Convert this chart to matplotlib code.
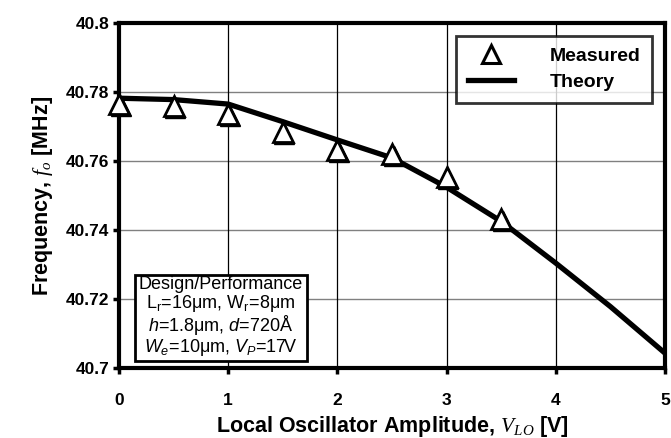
import matplotlib
matplotlib.use("Agg")
import matplotlib.pyplot as plt
import matplotlib.transforms as mtransforms
from matplotlib.lines import Line2D

plt.rcParams['font.family'] = ['Liberation Sans', 'DejaVu Sans']
plt.rcParams['mathtext.fontset'] = 'custom'
plt.rcParams['mathtext.rm'] = 'Liberation Sans'
plt.rcParams['mathtext.it'] = 'Liberation Sans:italic'
plt.rcParams['mathtext.bf'] = 'Liberation Sans:bold'
plt.rcParams['mathtext.sf'] = 'Liberation Serif:italic'

# data
meas_x = [0, 0.5, 1, 1.5, 2, 2.5, 3, 3.5]
meas_y = [40.7765, 40.7760, 40.7736, 40.7684, 40.7632, 40.7619, 40.7554, 40.7433]
theory_x = [0, 0.5, 1, 1.5, 2, 2.5, 3, 3.5, 4, 4.5, 5]
theory_y = [40.7782, 40.7778, 40.7765, 40.7714, 40.7661, 40.7609, 40.7524,
            40.7425, 40.7304, 40.7178, 40.7043]
xticks = [0, 1, 2, 3, 4, 5]
yticks = [40.70, 40.72, 40.74, 40.76, 40.78, 40.80]
yticklabels = ['40.7', '40.72', '40.74', '40.76', '40.78', '40.8']
box_lines = ['Design/Performance',
             r'L$_\mathrm{r}$=16μm, W$_\mathrm{r}$=8μm',
             r'$h$=1.8μm, $d$=720Å',
             r'$W_e$=10μm, $V_P$=17V']

fig = plt.figure(figsize=(6.71, 4.38), dpi=100)
ax = fig.add_axes([119/671, 1-368/438, (665-119)/671, (368-23)/438])

ax.set_xlim(0, 5)
ax.set_ylim(40.70, 40.80)
ax.set_xticks(xticks)
ax.set_yticks(yticks)
ax.set_yticklabels(yticklabels)

for y in yticks[1:-1]:
    ax.axhline(y, color='#808080', lw=1.0, zorder=1)
for x in xticks[1:-1]:
    ax.axvline(x, color='black', lw=0.9, zorder=1)

for s in ax.spines.values():
    s.set_linewidth(3.0)

ax.tick_params(axis='both', direction='out', length=4, width=2.5, labelsize=12.5)
ax.tick_params(axis='x', pad=14)
ax.tick_params(axis='y', pad=3)
for lab in ax.get_xticklabels() + ax.get_yticklabels():
    lab.set_fontweight('bold')

ax.plot(theory_x, theory_y, color='black', lw=3.8, zorder=3, solid_capstyle='butt')

shadow = mtransforms.offset_copy(ax.transData, fig=fig, x=1.5, y=-2.0, units='dots')
ax.plot(meas_x, meas_y, linestyle='none', marker='^', markersize=14,
        markerfacecolor='black', markeredgecolor='black', transform=shadow,
        zorder=4, clip_on=False)
ax.plot(meas_x, meas_y, linestyle='none', marker='^', markersize=14,
        markerfacecolor='white', markeredgecolor='black', markeredgewidth=2.0,
        zorder=5, clip_on=False)

ax.set_xlabel(r'Local Oscillator Amplitude, $\mathsf{V_{LO}}$ [V]',
              fontsize=15.5, fontweight='bold', labelpad=4)
ax.set_ylabel(r'Frequency, $\mathsf{f_o}$ [MHz]', fontsize=15.5,
              fontweight='bold', labelpad=8)

handles = [Line2D([], [], linestyle='none', marker='^', markersize=13,
                  markerfacecolor='white', markeredgecolor='black',
                  markeredgewidth=2.2),
           Line2D([], [], color='black', lw=3.8)]
leg = ax.legend(handles, ['Measured', 'Theory'], loc='upper right',
                bbox_to_anchor=(0.983, 0.975), frameon=True, fancybox=False,
                edgecolor='black', prop={'weight': 'bold', 'size': 14},
                handlelength=2.4, handletextpad=1.8, borderpad=0.6,
                labelspacing=0.45, borderaxespad=0.2)
leg.get_frame().set_linewidth(2.0)
leg.set_zorder(10)

ax.text((221-119)/546, 1 - (317-23)/345,
        '\n'.join(box_lines), transform=ax.transAxes, ha='center', va='center',
        fontsize=13, linespacing=0.97, zorder=10,
        bbox=dict(boxstyle='square,pad=0.2', facecolor='white',
                  edgecolor='black', linewidth=2.0))

fig.savefig('out.png', dpi=100)
